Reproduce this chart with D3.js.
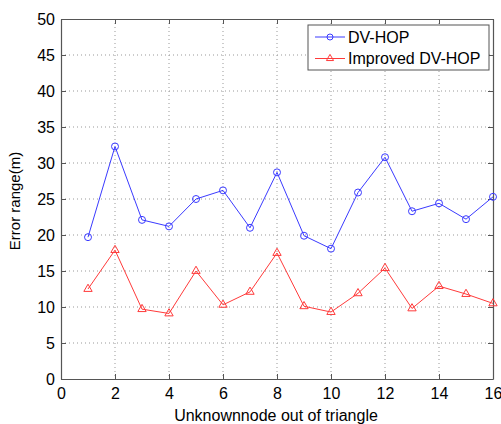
<!DOCTYPE html>
<html><head><meta charset="utf-8">
<script src="https://cdn.jsdelivr.net/npm/d3@7/dist/d3.min.js"></script>
<style>body{margin:0;background:#fff}svg{display:block}text{font-family:"Liberation Sans",Arial,sans-serif}</style>
</head><body>
<script>
const nodes = [1,2,3,4,5,6,7,8,9,10,11,12,13,14,15,16];
const dvhop = [19.7,32.3,22.1,21.2,25.0,26.2,21.0,28.7,19.9,18.1,25.9,30.8,23.3,24.4,22.2,25.3];
const improved = [12.5,17.9,9.7,9.1,15.0,10.3,12.1,17.5,10.1,9.3,11.9,15.4,9.8,12.9,11.8,10.5];
const xTicks = [0,2,4,6,8,10,12,14,16];
const yTicks = [0,5,10,15,20,25,30,35,40,45,50];
const seriesNames = ["DV-HOP","Improved DV-HOP"];

const W=501,H=424;
const L=61,R=493,T=19,B=379;
const svg=d3.select("body").append("svg").attr("width",W).attr("height",H);
const x=d3.scaleLinear().domain([0,16]).range([L,R]);
const y=d3.scaleLinear().domain([0,50]).range([B,T]);
const axisCol="#555";

// grid
const g=svg.append("g");
g.selectAll(".vg").data(xTicks.slice(1,-1)).enter().append("line")
 .attr("x1",d=>x(d)).attr("x2",d=>x(d)).attr("y1",T).attr("y2",B)
 .attr("stroke","#999").attr("stroke-width",1).attr("stroke-dasharray","1,3");
g.selectAll(".hg").data(yTicks.slice(1,-1)).enter().append("line")
 .attr("y1",d=>y(d)).attr("y2",d=>y(d)).attr("x1",L).attr("x2",R)
 .attr("stroke","#999").attr("stroke-width",1).attr("stroke-dasharray","1,3");

// axes
const fs=16;
const xa=svg.append("g").attr("transform",`translate(0,${B})`)
 .call(d3.axisBottom(x).tickValues(xTicks).tickSizeInner(-5).tickSizeOuter(0).tickPadding(9));
const xt=svg.append("g").attr("transform",`translate(0,${T})`)
 .call(d3.axisTop(x).tickValues(xTicks).tickSizeInner(-5).tickSizeOuter(0).tickFormat(""));
const ya=svg.append("g").attr("transform",`translate(${L},0)`)
 .call(d3.axisLeft(y).tickValues(yTicks).tickSizeInner(-5).tickSizeOuter(0).tickPadding(6));
const yr=svg.append("g").attr("transform",`translate(${R},0)`)
 .call(d3.axisRight(y).tickValues(yTicks).tickSizeInner(-5).tickSizeOuter(0).tickFormat(""));
[xa,xt,ya,yr].forEach(a=>{
  a.selectAll("path").attr("stroke",axisCol).attr("stroke-width",1.2);
  a.selectAll("line").attr("stroke",axisCol);
  a.selectAll("text").attr("fill","#000").style("font-size",fs+"px").style("font-family","'Liberation Sans',Arial,sans-serif");
});

// lines
const line=d3.line().x((d,i)=>x(nodes[i])).y(d=>y(d));
svg.append("path").datum(dvhop).attr("d",line).attr("fill","none").attr("stroke","#3a3aff").attr("stroke-width",1);
svg.append("path").datum(improved).attr("d",line).attr("fill","none").attr("stroke","#ff3a3a").attr("stroke-width",1);
svg.selectAll(".c").data(dvhop).enter().append("circle")
 .attr("cx",(d,i)=>x(nodes[i])).attr("cy",d=>y(d)).attr("r",3.5)
 .attr("fill","none").attr("stroke","#3a3aff").attr("stroke-width",1);
const tri=d3.symbol().type(d3.symbolTriangle).size(30);
svg.selectAll(".t").data(improved).enter().append("path")
 .attr("d",tri).attr("transform",(d,i)=>`translate(${x(nodes[i])},${y(d)})`)
 .attr("fill","none").attr("stroke","#ff3a3a").attr("stroke-width",1);

// labels
svg.append("text").attr("x",276).attr("y",421).attr("text-anchor","middle")
 .style("font-size","16px").text("Unknownnode out of triangle");
svg.append("text").attr("transform",`translate(20,201) rotate(-90)`).attr("text-anchor","middle")
 .style("font-size","15px").text("Error range(m)");

// legend
const lg=svg.append("g");
lg.append("rect").attr("x",308).attr("y",25).attr("width",181).attr("height",45)
 .attr("fill","#fff").attr("stroke",axisCol).attr("stroke-width",1);
const cols=["#3a3aff","#ff3a3a"];
const ly=[37,58.5];
seriesNames.forEach((n,i)=>{
  lg.append("line").attr("x1",315).attr("x2",345).attr("y1",ly[i]).attr("y2",ly[i]).attr("stroke",cols[i]).attr("stroke-width",1);
  if(i===0) lg.append("circle").attr("cx",330).attr("cy",ly[i]).attr("r",3).attr("fill","none").attr("stroke",cols[i]);
  else lg.append("path").attr("d",d3.symbol().type(d3.symbolTriangle).size(22)).attr("transform",`translate(330,${ly[i]})`).attr("fill","none").attr("stroke",cols[i]);
  lg.append("text").attr("x",348).attr("y",ly[i]+5.5).style("font-size","16px").text(n);
});
</script>
</body></html>
